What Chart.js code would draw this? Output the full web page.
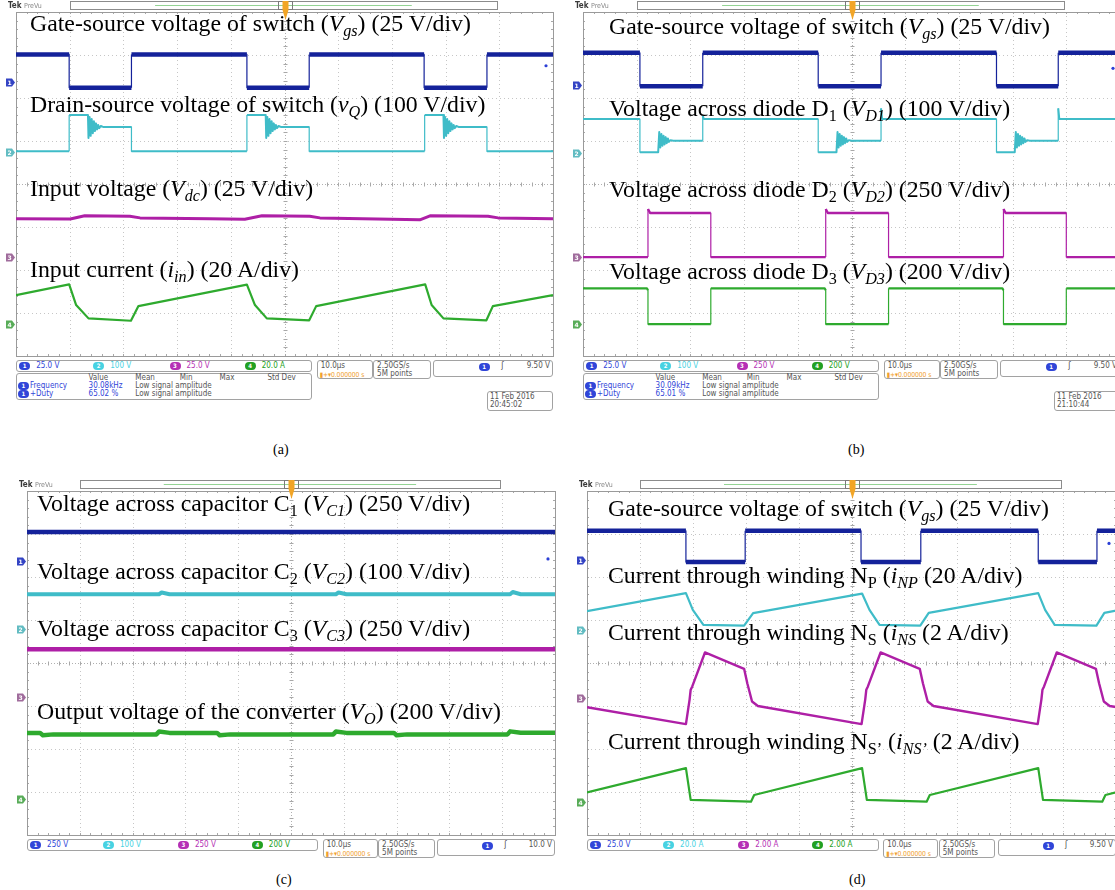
<!DOCTYPE html>
<html>
<head>
<meta charset="utf-8">
<title>Converter waveforms</title>
<script src="https://cdn.jsdelivr.net/npm/chart.js@4.4.1/dist/chart.umd.min.js"></script>
<style>
  html, body { margin:0; padding:0; background:#fff; }
  body { width:1115px; height:890px; overflow:hidden; position:relative; }
  .scope { position:absolute; }
  .scope canvas { display:block; }
  .note { position:absolute; font-family:"Liberation Serif","Times New Roman",serif; font-size:23.8px; line-height:1; white-space:nowrap; color:#000; }
  .note sub { font-size:0.68em; vertical-align:-0.3em; line-height:0; }
  .caption { position:absolute; font-family:"Liberation Serif","Times New Roman",serif; font-size:14px; line-height:1; color:#000; }
  .box { position:absolute; border:1px solid #a2a2a2; border-radius:3px; box-sizing:border-box; background:#fff;
         font-family:"DejaVu Sans Condensed","Liberation Sans Narrow","Liberation Sans",sans-serif; font-size:8px; line-height:8px; color:#555; }
  .tag { position:absolute; white-space:nowrap; }
  .tag.small { font-size:6.8px; letter-spacing:-0.1px; }
  .ov { position:absolute; width:11px; height:8px; border-radius:4px; color:#fff; font-size:6px; line-height:8px; text-align:center; font-weight:bold; }
</style>
</head>
<body>
<script>
// ===== Waveform data: [time in µs, value in V or A] =====

// (a) gate drive, switch voltage, input voltage, input current
const aGate = [[0,16.1],[9.9,16.1],[9.9,-3.3],[21.5,-3.3],[21.5,16.1],[43.0,16.1],[43.0,-3.3],[54.6,-3.3],[54.6,16.1],[76.0,16.1],[76.0,-3.3],[87.7,-3.3],[87.7,16.1],[100,16.1]];
const aSwitch = [[0,2],[9.9,2],[9.9,86.7],[13.4,86.7],[13.5,33],[13.7,82],[13.9,38],[14.1,77],[14.3,44],[14.5,72],[14.7,49],[14.9,67],[15.1,53],[15.3,63],[15.5,56],[15.8,61],[16.2,58.8],[21.5,58.8],[21.5,2],
  [43.0,2],[43.0,86.7],[46.5,86.7],[46.6,33],[46.8,82],[47.0,38],[47.2,77],[47.4,44],[47.6,72],[47.8,49],[48.0,67],[48.2,53],[48.4,63],[48.6,56],[48.9,61],[49.3,58.8],[54.6,58.8],[54.6,2],
  [76.1,2],[76.1,86.7],[79.6,86.7],[79.7,33],[79.9,82],[80.1,38],[80.3,77],[80.5,44],[80.7,72],[80.9,49],[81.1,67],[81.3,53],[81.5,63],[81.7,56],[82.0,61],[82.4,58.8],[87.7,58.8],[87.7,2],[100,2]];
const aInputV = [[0,22.3],[10.1,22.1],[12.8,24.0],[21.2,23.7],[23.1,22.8],[36.1,22.3],[42.6,22.0],[45.8,24.0],[54.7,23.7],[56.6,22.8],[75.2,21.7],[77.1,24.0],[87.9,23.7],[89.8,22.8],[100,22.3]];
const aInputI = [[0,13.5],[9.9,18.5],[11.2,8.9],[13.5,2.7],[21.4,1.6],[22.8,8.4],[43.0,18.4],[44.5,8.9],[46.7,2.7],[54.6,1.8],[55.9,8.4],[76.2,18.5],[77.4,8.9],[79.6,2.7],[87.6,1.8],[88.8,8.4],[100,13.5]];
const aPerDiv = [25, 100, 25, 20];
const aChannelScales = ['25.0 V', '100 V', '25.0 V', '20.0 A'];
const aTrigger = 9.5;
const aMeasure = ['30.08kHz', '65.02 %'];
const aStamp = ['11 Feb 2016', '20:45:02'];

// (b) gate drive and the three diode voltages
const bGate = [[0,18.5],[10.6,18.5],[10.6,-0.9],[22.3,-0.9],[22.3,18.5],[43.8,18.5],[43.8,-0.9],[55.5,-0.9],[55.5,18.5],[77.0,18.5],[77.0,-0.9],[88.5,-0.9],[88.5,18.5],[100,18.5]];
const bDiode1 = [[0,80],[10.6,80],[10.6,3],[14.0,3],[14.2,50],[14.4,14],[14.6,45],[14.8,18],[15.0,41],[15.2,21],[15.4,38],[15.6,24],[15.8,35],[16.0,27],[16.3,31],[16.8,29.8],[22.3,29.8],[22.3,88],[22.5,80],
  [43.8,80],[43.8,3],[47.2,3],[47.4,50],[47.6,14],[47.8,45],[48.0,18],[48.2,41],[48.4,21],[48.6,38],[48.8,24],[49.0,35],[49.2,27],[49.5,31],[50.0,29.8],[55.5,29.8],[55.5,105],[55.7,80],
  [77.0,80],[77.0,3],[80.4,3],[80.6,50],[80.8,14],[81.0,45],[81.2,18],[81.4,41],[81.6,21],[81.8,38],[82.0,24],[82.2,35],[82.4,27],[82.7,31],[83.2,29.8],[88.5,29.8],[88.5,105],[88.7,80],[100,80]];
const bDiode2 = [[0,0],[12.1,0],[12.1,280],[12.5,256],[23.8,256],[23.8,0],[45.2,0],[45.2,280],[45.6,256],[56.9,256],[56.9,0],[78.3,0],[78.3,280],[78.7,256],[90.0,256],[90.0,0],[100,0]];
const bDiode3 = [[0,167],[11.9,167],[12.1,158],[12.1,0],[23.8,0],[23.8,167],[45.0,167],[45.2,158],[45.2,0],[56.9,0],[56.9,167],[78.1,167],[78.3,158],[78.3,0],[90.0,0],[90.0,167],[100,167]];
const bPerDiv = [25, 100, 250, 200];
const bChannelScales = ['25.0 V', '100 V', '250 V', '200 V'];
const bTrigger = 9.5;
const bMeasure = ['30.09kHz', '65.01 %'];
const bStamp = ['11 Feb 2016', '21:10:44'];

// (c) capacitor voltages and output voltage
const cCap1 = [[0,166],[100,166]];
const cCap2 = [[0,82],[25,82],[25.5,86],[27,82],[58.5,82],[59,86],[60.5,82],[91.5,82],[92,87],[93.5,82],[100,82]];
const cCap3 = [[0,280],[100,280]];
const cOutput = [[0,306],[2.5,306],[3,296],[5,300],[24.5,300],[25,313],[27,307],[36,307],[36.5,296],[38.5,300],[58,300],[58.5,313],[60.5,307],[69.5,307],[70,296],[72,300],[91,300],[91.5,314],[93.5,308],[100,308]];
const cPerDiv = [250, 100, 250, 200];
const cChannelScales = ['250 V', '100 V', '250 V', '200 V'];
const cTrigger = 10.0;

// (d) gate drive and the three winding currents
const dGate = [[0,16.9],[18.7,16.9],[18.7,-1.3],[29.9,-1.3],[29.9,16.9],[51.8,16.9],[51.8,-1.3],[63.1,-1.3],[63.1,16.9],[85.3,16.9],[85.3,-1.3],[96.4,-1.3],[96.4,16.9],[100,16.9]];
const dPrimary = [[0,8.7],[18.7,17.1],[20.0,9.3],[22.0,2.3],[29.7,2.0],[31.4,7.8],[52.0,16.9],[53.4,9.3],[55.3,2.3],[63.0,2.0],[64.6,7.9],[85.3,17.1],[86.6,9.3],[88.4,2.3],[96.3,2.0],[97.8,7.9],[100,9.0]];
const dSecondary = [[0,-0.42],[18.7,-1.20],[19.4,-0.05],[19.6,0.40],[19.9,0.55],[22.3,2.13],[29.7,1.37],[30.3,0.70],[31.2,-0.15],[32.3,-0.36],
  [51.9,-1.20],[52.6,-0.05],[52.8,0.40],[53.1,0.55],[55.5,2.13],[62.9,1.37],[63.5,0.70],[64.4,-0.15],[65.5,-0.36],
  [85.2,-1.20],[85.9,-0.05],[86.1,0.40],[86.4,0.55],[88.8,2.13],[96.2,1.37],[96.8,0.70],[97.7,-0.15],[98.8,-0.36],[100,-0.41]];
const dTertiary = [[0,0.46],[18.7,1.59],[19.6,0.11],[31.0,0.03],[31.6,0.34],[52.0,1.59],[52.9,0.11],[64.2,0.03],[64.8,0.34],[85.3,1.59],[86.2,0.11],[97.4,0.03],[98.0,0.34],[100,0.46]];
const dPerDiv = [25, 20, 2, 2];
const dChannelScales = ['25.0 V', '20.0 A', '2.00 A', '2.00 A'];
const dTrigger = 9.5;

// ===== Annotations =====
const aNotes = [
  'Gate-source voltage of switch (<i>V</i><sub><i>gs</i></sub>) (25 V/div)',
  'Drain-source voltage of switch (<i>v</i><sub><i>Q</i></sub>) (100 V/div)',
  'Input voltage (<i>V</i><sub><i>dc</i></sub>) (25 V/div)',
  'Input current (<i>i</i><sub><i>in</i></sub>) (20 A/div)'
];
const bNotes = [
  'Gate-source voltage of switch (<i>V</i><sub><i>gs</i></sub>) (25 V/div)',
  'Voltage across diode D<sub>1</sub> (<i>V</i><sub><i>D1</i></sub>) (100 V/div)',
  'Voltage across diode D<sub>2</sub> (<i>V</i><sub><i>D2</i></sub>) (250 V/div)',
  'Voltage across diode D<sub>3</sub> (<i>V</i><sub><i>D3</i></sub>) (200 V/div)'
];
const cNotes = [
  'Voltage across capacitor C<sub>1</sub> (<i>V</i><sub><i>C1</i></sub>) (250 V/div)',
  'Voltage across capacitor C<sub>2</sub> (<i>V</i><sub><i>C2</i></sub>) (100 V/div)',
  'Voltage across capacitor C<sub>3</sub> (<i>V</i><sub><i>C3</i></sub>) (250 V/div)',
  'Output voltage of the converter (<i>V</i><sub><i>O</i></sub>) (200 V/div)'
];
const dNotes = [
  'Gate-source voltage of switch (<i>V</i><sub><i>gs</i></sub>) (25 V/div)',
  'Current through winding N<sub>P</sub> (<i>i</i><sub><i>NP</i></sub> (20 A/div)',
  'Current through winding N<sub>S</sub> (<i>i</i><sub><i>NS</i></sub> (2 A/div)',
  'Current through winding N<sub>S\u2019</sub> (<i>i</i><sub><i>NS\u2019</i></sub> (2 A/div)'
];

// ===== Styling =====
const TRACE = ['#14229a', '#3fbcc8', '#ae1fa6', '#2eaa2e'];
const MARKER = ['#3444c4', '#62bcc2', '#a06c9c', '#58ac58'];
const READOUT = ['#3045d8', '#48d2e2', '#b530b5', '#22a022'];

const panels = [
  { plot:{x:16, y:12, w:537, h:344}, perDiv:aPerDiv, ground:[2.37,0.74,-1.70,-3.26],
    traces:[[aGate,0,4.5],[aSwitch,1,2],[aInputV,2,3],[aInputI,3,2.2]],
    notes:aNotes, noteX:30, noteBase:[32,113,197,278],
    scalesTxt:aChannelScales, trigger:aTrigger, trigTxt:'9.50 V', meas:aMeasure, stamp:aStamp,
    caption:'(a)', capX:280, capY:443 },
  { plot:{x:583, y:12, w:537, h:344}, perDiv:bPerDiv, ground:[2.31,0.71,-1.70,-3.26],
    traces:[[bGate,0,4.5],[bDiode1,1,2],[bDiode2,2,2.4],[bDiode3,3,2.2]],
    notes:bNotes, noteX:609, noteBase:[35,117,198,280],
    scalesTxt:bChannelScales, trigger:bTrigger, trigTxt:'9.50 V', meas:bMeasure, stamp:bStamp,
    caption:'(b)', capX:855, capY:443 },
  { plot:{x:27, y:491, w:528, h:344}, perDiv:cPerDiv, ground:[2.38,0.78,-0.80,-3.16],
    traces:[[cCap1,0,4.5],[cCap2,1,4],[cCap3,2,4.5],[cOutput,3,4.5]],
    notes:cNotes, noteX:37, noteBase:[512,580,637,720],
    scalesTxt:cChannelScales, trigger:cTrigger, trigTxt:'10.0 V', meas:null, stamp:null,
    caption:'(c)', capX:283, capY:873 },
  { plot:{x:587, y:491, w:529, h:344}, perDiv:dPerDiv, ground:[2.40,0.77,-0.82,-3.24],
    traces:[[dGate,0,4.5],[dPrimary,1,2.2],[dSecondary,2,2.4],[dTertiary,3,2.2]],
    notes:dNotes, noteX:608, noteBase:[517,584,641,750],
    scalesTxt:dChannelScales, trigger:dTrigger, trigTxt:'9.50 V', meas:null, stamp:null,
    caption:'(d)', capX:856, capY:873 }
];

// ===== Oscilloscope screen: graticule, channel markers, record bar =====
function seg(ctx, x1, y1, x2, y2) { ctx.beginPath(); ctx.moveTo(x1, y1); ctx.lineTo(x2, y2); ctx.stroke(); }

const scopeScreen = {
  id: 'scopeScreen',
  beforeDatasetsDraw(chart) {
    const ctx = chart.ctx, a = chart.chartArea, xs = chart.scales.x, ys = chart.scales.y;
    ctx.save();
    ctx.lineWidth = 1;
    ctx.strokeStyle = '#c6c6c6';
    ctx.setLineDash([1, 3]);
    for (let d = 1; d < 10; d++) {
      if (d === 5) continue;
      const x = Math.round(xs.getPixelForValue(d * 10)) + 0.5;
      seg(ctx, x, a.top, x, a.bottom);
    }
    for (let d = -3; d <= 3; d++) {
      if (d === 0) continue;
      const y = Math.round(ys.getPixelForValue(d)) + 0.5;
      seg(ctx, a.left, y, a.right, y);
    }
    const cx = Math.round(xs.getPixelForValue(50)) + 0.5, cy = Math.round(ys.getPixelForValue(0)) + 0.5;
    ctx.strokeStyle = '#b0b0b0';
    ctx.setLineDash([1, 2]);
    seg(ctx, cx, a.top, cx, a.bottom);
    seg(ctx, a.left, cy, a.right, cy);
    ctx.setLineDash([]);
    ctx.strokeStyle = '#a8a8a8';
    for (let k = 0; k <= 50; k++) {
      const x = Math.round(xs.getPixelForValue(k * 2)) + 0.5;
      seg(ctx, x, cy - 2, x, cy + 2);
      seg(ctx, x, a.top, x, a.top + 2);
      seg(ctx, x, a.bottom - 2, x, a.bottom);
    }
    for (let k = 0; k <= 40; k++) {
      const y = Math.round(ys.getPixelForValue(-4 + k * 0.2)) + 0.5;
      seg(ctx, cx - 2, y, cx + 2, y);
      seg(ctx, a.left, y, a.left + 2, y);
      seg(ctx, a.right - 2, y, a.right, y);
    }
    ctx.strokeStyle = '#9a9a9a';
    ctx.strokeRect(Math.round(a.left) + 0.5, Math.round(a.top) + 0.5, Math.round(a.right - a.left), Math.round(a.bottom - a.top));
    ctx.restore();
  },
  afterDatasetsDraw(chart, args, opts) {
    const ctx = chart.ctx, a = chart.chartArea, xs = chart.scales.x, ys = chart.scales.y;
    const W = a.right - a.left;
    ctx.save();
    // channel ground markers on the left edge
    opts.ground.forEach((g, i) => {
      const y = Math.round(ys.getPixelForValue(g)) + 0.5, xr = a.left - 1;
      ctx.fillStyle = MARKER[i];
      ctx.beginPath();
      ctx.moveTo(xr - 9, y - 4); ctx.lineTo(xr - 3, y - 4); ctx.lineTo(xr, y);
      ctx.lineTo(xr - 3, y + 4); ctx.lineTo(xr - 9, y + 4); ctx.closePath(); ctx.fill();
      ctx.fillStyle = '#fff';
      ctx.font = 'bold 6px "DejaVu Sans"';
      ctx.textAlign = 'center'; ctx.textBaseline = 'middle';
      ctx.fillText(String(i + 1), xr - 5.5, y + 0.5);
    });
    // trigger level dot on channel 1
    const ty = ys.getPixelForValue(opts.ground[0] + opts.trigger / opts.perDiv[0]);
    ctx.fillStyle = '#2b3fd6';
    ctx.beginPath(); ctx.arc(a.right - 7, ty, 1.6, 0, Math.PI * 2); ctx.fill();
    // header and record view bar
    ctx.textAlign = 'left'; ctx.textBaseline = 'alphabetic';
    ctx.font = 'bold 8px "DejaVu Sans Condensed", sans-serif';
    ctx.fillStyle = '#3a3a3a';
    ctx.fillText('Tek', a.left - 8, a.top - 4);
    ctx.font = '7px "DejaVu Sans Condensed", sans-serif';
    ctx.fillStyle = '#8a8a8a';
    ctx.fillText('PreVu', a.left + 8, a.top - 4);
    const cx = Math.round(xs.getPixelForValue(50)) + 0.5;
    ctx.lineWidth = 1;
    ctx.strokeStyle = '#8c8c8c';
    ctx.strokeRect(Math.round(a.left + 0.1 * W) + 0.5, a.top - 10.5, Math.round(0.795 * W), 8);
    ctx.strokeStyle = '#94d494';
    seg(ctx, a.left + 0.259 * W, a.top - 6.5, a.left + 0.737 * W, a.top - 6.5);
    ctx.strokeStyle = '#7a7a7a';
    ctx.strokeRect(cx - 7, a.top - 10.5, 14, 8);
    ctx.fillStyle = '#f2a526';
    ctx.fillRect(cx - 3, a.top - 11, 6, 9);
    ctx.beginPath(); ctx.moveTo(cx - 3, a.top - 2); ctx.lineTo(cx + 3, a.top - 2); ctx.lineTo(cx, a.top + 8); ctx.closePath(); ctx.fill();
    ctx.restore();
  }
};

// ===== Build the four screens =====
function buildScope(p) {
  const padL = 12, padT = 14, padR = 4, padB = 4;
  const wrap = document.createElement('div');
  wrap.className = 'scope';
  wrap.style.left = (p.plot.x - padL) + 'px';
  wrap.style.top = (p.plot.y - padT) + 'px';
  const cv = document.createElement('canvas');
  cv.width = p.plot.w + padL + padR;
  cv.height = p.plot.h + padT + padB;
  wrap.appendChild(cv);
  document.body.appendChild(wrap);

  const datasets = p.traces.map(([pts, ch, width]) => ({
    data: pts.map(([t, v]) => ({ x: t, y: p.ground[ch] + v / p.perDiv[ch] })),
    borderColor: TRACE[ch],
    borderWidth: width,
    pointRadius: 0,
    tension: 0,
    fill: false,
    borderJoinStyle: 'round',
    segment: { borderWidth: ctx => (ctx.p0.parsed.x === ctx.p1.parsed.x ? 1.2 : width) }
  }));

  new Chart(cv, {
    type: 'line',
    data: { datasets },
    options: {
      responsive: false,
      animation: false,
      devicePixelRatio: 1,
      layout: { padding: { left: padL, top: padT, right: padR, bottom: padB } },
      plugins: {
        legend: { display: false },
        tooltip: { enabled: false },
        scopeScreen: { ground: p.ground, perDiv: p.perDiv, trigger: p.trigger }
      },
      scales: {
        x: { type: 'linear', min: 0, max: 100, display: false },
        y: { type: 'linear', min: -4, max: 4, display: false }
      }
    },
    plugins: [scopeScreen]
  });
}

function el(cls, parent, x, y, html, color) {
  const d = document.createElement(cls === 'box' ? 'div' : 'span');
  d.className = cls;
  d.style.left = x + 'px'; d.style.top = y + 'px';
  if (html !== undefined) d.innerHTML = html;
  if (color) d.style.color = color;
  parent.appendChild(d);
  return d;
}
function box(x, y, w, h) {
  const d = el('box', document.body, x, y);
  d.style.width = w + 'px'; d.style.height = h + 'px';
  return d;
}
function oval(parent, x, y, n, color) {
  const o = el('ov', parent, x, y, String(n));
  o.style.background = color;
  return o;
}

function buildReadout(p) {
  const L = p.plot.x, W = p.plot.w, T = p.plot.y + p.plot.h + 4;
  // vertical settings
  const ch = box(L, T, 0.552 * W, 12);
  [0.004, 0.142, 0.284, 0.424].forEach((f, i) => {
    oval(ch, f * W, 1, i + 1, READOUT[i]);
    el('tag', ch, f * W + 17, 1, p.scalesTxt[i], READOUT[i]);
  });
  // timebase
  const tb = box(L + 0.56 * W, T, 0.104 * W, 19);
  el('tag', tb, 3, 1, '10.0\u00b5s', '#555');
  el('tag small', tb, 2, 9.5, '\u25ae+\u25be0.000000 s', '#f0a030');
  // acquisition
  const aq = box(L + 0.665 * W, T, 0.107 * W, 19);
  el('tag', aq, 3, 1, '2.50GS/s', '#555');
  el('tag', aq, 3, 9, '5M points', '#555');
  // trigger
  const tw = 0.223 * W;
  const tr = box(L + 0.777 * W, T, tw, 17);
  oval(tr, 0.37 * tw, 2, 1, READOUT[0]);
  el('tag', tr, 0.56 * tw, 1, '\u0283', '#444');
  const tv = el('tag', tr, 0, 1, p.trigTxt, '#555');
  tv.style.left = 'auto'; tv.style.right = '2px';
  if (p.meas) {
    const m = box(L, T + 13, 0.552 * W, 27);
    const cols = [['Value', 0.137], ['Mean', 0.224], ['Min', 0.307], ['Max', 0.381], ['Std Dev', 0.47]];
    cols.forEach(([t, f]) => el('tag', m, f * W - 2, 0, t, '#555'));
    oval(m, 1, 8, 1, READOUT[0]);
    el('tag', m, 13, 8, 'Frequency', READOUT[0]);
    el('tag', m, 0.137 * W - 2, 8, p.meas[0], READOUT[0]);
    el('tag', m, 0.224 * W - 2, 8, 'Low signal amplitude', '#555');
    oval(m, 1, 16, 1, READOUT[0]);
    el('tag', m, 13, 16, '+Duty', READOUT[0]);
    el('tag', m, 0.137 * W - 2, 16, p.meas[1], READOUT[0]);
    el('tag', m, 0.224 * W - 2, 16, 'Low signal amplitude', '#555');
  }
  if (p.stamp) {
    const s = box(L + 0.877 * W, T + 31, 0.123 * W, 20);
    el('tag', s, 2, 1, p.stamp[0], '#555');
    el('tag', s, 2, 9, p.stamp[1], '#555');
  }
}

function buildNotes(p) {
  p.notes.forEach((html, i) => {
    el('note', document.body, p.noteX, p.noteBase[i] - 19.9, html);
  });
  el('caption', document.body, p.capX - 7, p.capY, p.caption);
}

panels.forEach(p => { buildScope(p); buildReadout(p); buildNotes(p); });
</script>
</body>
</html>
